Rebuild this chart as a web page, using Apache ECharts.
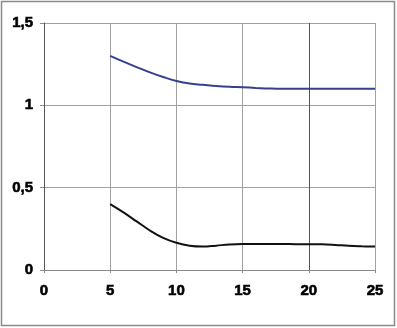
<!DOCTYPE html>
<html>
<head>
<meta charset="utf-8">
<script src="https://cdn.jsdelivr.net/npm/echarts@6/dist/echarts.min.js"></script>
<style>
html,body{margin:0;padding:0;background:#fff;}
#c{width:397px;height:328px;}
</style>
</head>
<body>
<div id="c"></div>
<script>
const xValues = [5,6,7,8,9,10,11,12,13,14,15,16,17,18,19,20,21,22,23,24,25];
const blueSeries = [1.30,1.265,1.232,1.200,1.172,1.148,1.132,1.125,1.118,1.113,1.110,1.106,1.102,1.100,1.100,1.100,1.100,1.100,1.100,1.100,1.100];
const blackSeries = [0.40,0.35,0.295,0.24,0.195,0.165,0.147,0.142,0.148,0.155,0.158,0.158,0.158,0.158,0.157,0.157,0.156,0.152,0.147,0.144,0.142];
const xTicks = [0,5,10,15,20,25];
const yTicks = [0,0.5,1,1.5];

const chart = echarts.init(document.getElementById('c'), null, {renderer:'canvas'});
const fmt = v => String(v).replace('.', ',');
function labelStyle(margin){
  return {color:'#000', fontFamily:'Arial', fontWeight:700, fontSize:15,
    textBorderColor:'#000', textBorderWidth:0.6, margin:margin, formatter:fmt};
}
chart.setOption({
  animation:false,
  backgroundColor:'#fff',
  graphic:[{type:'rect', shape:{x:1.5,y:1.5,width:393,height:324}, style:{fill:'none', stroke:'#8a8a8a', lineWidth:1.5}, silent:true}],
  grid:{left:44, top:23, right:22, bottom:58, containLabel:false},
  xAxis:{type:'value', min:xTicks[0], max:xTicks[xTicks.length-1], interval:5,
    axisLine:{show:true, lineStyle:{color:'#8a8a8a', width:1}},
    axisTick:{show:true, length:3, lineStyle:{color:'#8a8a8a'}},
    axisLabel:labelStyle(13),
    splitLine:{show:true, lineStyle:{color:['#a0a0a0','#a0a0a0','#a0a0a0','#a0a0a0','#555','#a0a0a0'], width:1}}
  },
  yAxis:{type:'value', min:yTicks[0], max:yTicks[yTicks.length-1], interval:0.5,
    axisLine:{show:true, lineStyle:{color:'#555', width:1}},
    axisTick:{show:true, length:4, lineStyle:{color:'#8a8a8a'}},
    axisLabel:labelStyle(11),
    splitLine:{show:true, lineStyle:{color:'#a0a0a0', width:1}}
  },
  series:[
    {type:'line', data:xValues.map((x,i)=>[x,blueSeries[i]]), smooth:0.4, showSymbol:false, lineStyle:{color:'#35408f', width:2}},
    {type:'line', data:xValues.map((x,i)=>[x,blackSeries[i]]), smooth:0.4, showSymbol:false, lineStyle:{color:'#111', width:2}}
  ]
});
</script>
</body>
</html>
